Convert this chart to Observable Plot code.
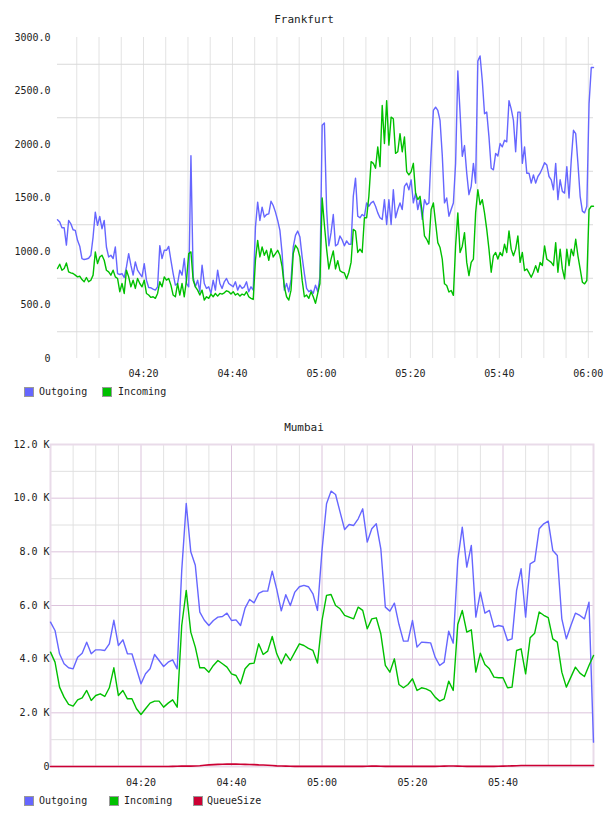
<!DOCTYPE html>
<html><head><meta charset="utf-8">
<script src="https://cdn.jsdelivr.net/npm/d3@7"></script>
<script src="https://cdn.jsdelivr.net/npm/@observablehq/plot@0.6"></script>
<style>
body{margin:0;background:#fff;}
#wrap{position:relative;width:608px;height:816px;font-family:"DejaVu Sans Mono",monospace;color:#222;overflow:hidden;}
.title{position:absolute;left:0;width:608px;text-align:center;font-size:11px;line-height:14px;color:#222;}
.sw{position:absolute;width:10px;height:10px;box-sizing:border-box;border:1px solid #999;}
.lt{position:absolute;font-size:10px;line-height:12px;color:#222;}
#wrap svg{position:absolute;left:0;}
</style></head><body><div id="wrap"></div>
<script>
// ---------- Frankfurt (30-second samples starting 04:00:40) ----------
const fraTitle = "Frankfurt";
const fraStart = "04:00:40";
const fraStepSeconds = 30;
const fraOutgoing = [
1297,1275,1222,1222,1060,1290,1259,1203,1197,1104,
1050,934,925,930,937,965,1135,1368,1244,1327,
1213,1290,1042,949,965,934,1042,794,785,794,
757,856,980,872,779,903,825,794,763,887,
732,664,661,649,639,670,1055,934,1011,1011,
1048,918,794,686,701,825,779,934,701,670,
1895,760,670,732,624,872,701,655,670,608,
732,639,825,701,655,717,748,701,686,670,
717,639,686,655,670,717,624,670,639,1228,
1461,1290,1414,1321,1346,1352,1470,1430,1368,1290,
1197,980,639,701,624,732,1042,1151,1191,1135,
949,794,655,624,639,608,686,624,763,2180,
2200,1392,1053,1176,1346,1053,1068,1145,1108,1053,
1099,1068,1068,1516,1685,1330,1315,1346,1330,1454,
1423,1454,1469,1423,1361,1315,1300,1485,1253,1485,
1253,1577,1315,1392,1454,1392,1608,1639,1577,1670,
1454,1546,1392,1485,1300,1485,1438,1454,1917,2318,
2349,2318,2225,1901,1454,1500,1330,1392,1454,1824,
2688,2300,1890,1990,1732,1531,1608,1824,1639,2781,
2827,2596,2287,2303,2071,1778,1763,1917,1892,2009,
1978,2040,2025,2410,2333,2225,1932,2303,2303,1824,
1978,1732,1732,1639,1716,1639,1701,1732,1778,1830,
1809,1701,1670,1577,1824,1485,1670,1562,1546,1793,
1500,1855,2133,2102,1824,1516,1377,1361,1423,2380,
2719,2719];
const fraIncoming = [
841,881,825,841,893,810,800,794,779,763,
769,738,717,757,717,732,779,996,887,949,
965,918,825,810,779,825,763,748,624,701,
608,825,763,670,732,655,748,701,670,732,
608,593,571,577,562,608,717,670,763,732,
748,686,593,577,701,593,701,577,732,980,
996,732,670,639,593,639,546,577,562,602,
577,608,583,608,602,614,633,624,602,624,
593,608,583,602,593,624,577,562,552,918,
1104,949,1042,965,1011,918,1027,949,980,1011,
965,856,670,577,546,639,980,1058,1027,949,
732,577,593,562,624,577,515,608,701,1500,
1250,1022,837,929,1006,837,914,821,806,800,
744,806,898,1207,1192,991,1022,991,1315,1315,
1516,1840,1824,1778,1978,1793,2364,2009,2410,1994,
2256,2241,1917,1932,2102,1932,2071,1747,1716,1747,
1824,1546,1485,1516,1361,1145,1114,1068,1392,1454,
1269,1083,1037,929,698,682,621,636,590,1053,
1361,990,1050,1176,898,775,898,929,1361,1577,
1438,1485,1361,1207,1022,806,960,991,929,991,
960,1068,991,1192,1022,960,1022,1145,898,991,
821,837,800,759,806,868,806,898,868,1053,
929,914,898,868,1083,806,1022,837,744,1022,
868,1022,960,1114,960,837,713,698,729,1392,
1423,1423];
const fraYTicks = [0,500,1000,1500,2000,2500,3000];
const fraYGrid = [250,750,1250,1750,2250,2750];
const fraXTicks = ["04:20","04:40","05:00","05:20","05:40","06:00"];

// ---------- Mumbai (1-minute samples 04:00 .. 06:00) ----------
const mumTitle = "Mumbai";
const mumStart = "04:00:00";
const mumStepSeconds = 60;
const mumOutgoing = [
5379,5069,4199,3827,3678,3640,4075,4224,4634,4199,
4348,4348,4324,4572,5450,4510,4721,4199,4199,3640,
3082,3454,3640,4175,3951,3727,3889,3976,3640,7300,
9800,8000,7500,5750,5450,5255,5441,5566,5590,5715,
5441,5466,5255,5900,6224,6100,6450,6534,6534,7280,
6600,5800,6400,6000,6500,6700,6750,6700,6437,5816,
8051,9790,10262,10138,9480,8834,9020,8983,9231,9604,
8362,8859,9045,8113,5940,5791,6089,5300,4671,4671,
5441,4448,4634,4620,4609,4075,3765,3889,5044,4597,
7679,8921,7430,8238,5567,6499,5716,5816,5193,5255,
5218,4696,4758,6561,7368,5567,7554,7654,8859,9045,
9144,8051,7865,5505,4758,5255,5715,5628,5503,6126,
908];
const mumIncoming = [
4261,3889,2957,2585,2312,2249,2485,2560,2833,2461,
2647,2709,2610,2933,3678,2647,2833,2523,2523,2150,
1939,2150,2361,2436,2436,2212,2361,2485,2212,5255,
6561,5007,4448,3678,3678,3516,3765,3951,3827,3703,
3454,3392,3082,3640,3827,3852,4572,4175,4299,4845,
4199,3827,4199,3951,4261,4572,4510,4400,4324,3852,
5441,6375,6412,6002,5878,5629,5567,5505,5940,5816,
5131,5503,5541,4945,3765,3516,4013,3057,2933,3057,
3268,2833,2933,2895,2808,2585,2436,2523,3181,2833,
5292,5816,5007,5094,3516,4224,3802,3641,3330,3305,
3305,2933,2957,4324,4386,3454,4796,4969,5759,5635,
5548,4758,4634,3516,2957,3330,3703,3479,3355,3765,
4137];
const mumQueueSize = [
0,0,0,0,0,0,0,0,0,0,
0,0,0,0,0,0,0,0,0,0,
0,0,0,0,0,0,0,5,10,15,
20,15,20,30,45,60,70,80,85,90,
90,88,85,80,75,70,60,55,45,35,
25,20,15,10,5,5,5,5,5,5,
5,5,5,5,5,5,5,5,5,5,
10,15,15,10,5,5,5,5,5,5,
5,5,5,5,5,5,10,15,20,20,
15,10,5,5,5,5,5,5,5,10,
15,20,25,30,35,35,35,35,35,35,
35,35,35,35,35,35,35,35,35,35,
35];
const mumYTicks = [0,2000,4000,6000,8000,10000,12000];
const mumYGridMajor = [2000,4000,6000,8000,10000];
const mumYGridMinor = [1000,3000,5000,7000,9000,11000];
const mumXTicks = ["04:20","04:40","05:00","05:20","05:40"];

const seriesNames = ["Outgoing","Incoming","QueueSize"];
const seriesColors = ["#6666ff","#00c000","#cc0033"];

// ---------- helpers ----------
const parseHMS = d3.utcParse("%H:%M:%S");
const parseHM = d3.utcParse("%H:%M");
const fmtHM = d3.utcFormat("%H:%M");
function times(start, step, n){ const t0 = parseHMS(start); return d3.range(n).map(i => new Date(+t0 + i*step*1000)); }

const wrap = document.getElementById("wrap");
function addTitle(text, top){ const d=document.createElement("div"); d.className="title"; d.style.top=top+"px"; d.textContent=text; wrap.appendChild(d); }
function addLegend(items, top){
  items.forEach(it => {
    const s=document.createElement("div"); s.className="sw"; s.style.left=it.sx+"px"; s.style.top=top+"px"; s.style.background=it.color; wrap.appendChild(s);
    const l=document.createElement("div"); l.className="lt"; l.style.left=it.tx+"px"; l.style.top=(top-1)+"px"; l.textContent=it.name; wrap.appendChild(l);
  });
}
const baseStyle = {fontFamily:"'DejaVu Sans Mono', monospace", fontSize:"10px", color:"#222", background:"transparent", overflow:"visible"};

// ---------- Frankfurt chart ----------
const fraT = times(fraStart, fraStepSeconds, fraOutgoing.length);
const fraData = fraT.map((t,i)=>({t, out:fraOutgoing[i], inc:fraIncoming[i]}));
const fraGridX = d3.utcMinute.every(5).range(parseHM("04:05"), new Date(+fraT[fraT.length-1]+1));
addTitle(fraTitle, 13);
const fra = Plot.plot({
  width:608, height:385,
  marginLeft:57, marginRight:15, marginTop:37, marginBottom:27,
  style: baseStyle,
  x:{type:"utc", domain:[fraT[0], fraT[fraT.length-1]]},
  y:{domain:[0,3000]},
  marks:[
    Plot.ruleX(fraGridX, {stroke:"#e3e3e3", strokeWidth:1}),
    Plot.ruleY(fraYGrid, {stroke:"#d9d9d9", strokeWidth:1}),
    Plot.line(fraData, {x:"t", y:"out", stroke:seriesColors[0], strokeWidth:1.4}),
    Plot.line(fraData, {x:"t", y:"inc", stroke:seriesColors[1], strokeWidth:1.4}),
    Plot.axisX(fraXTicks.map(parseHM), {tickSize:0, tickPadding:11, tickFormat:fmtHM, label:null}),
    Plot.axisY(fraYTicks, {tickSize:0, tickPadding:7, tickFormat:d=>d===0?"0":d.toFixed(1), label:null})
  ]
});
fra.style.top = "0px";
wrap.appendChild(fra);
addLegend([
  {name:seriesNames[0], color:seriesColors[0], sx:24, tx:39},
  {name:seriesNames[1], color:seriesColors[1], sx:102, tx:118}
], 387);

// ---------- Mumbai chart ----------
const mumT = times(mumStart, mumStepSeconds, mumOutgoing.length);
const mumData = mumT.map((t,i)=>({t, out:mumOutgoing[i], inc:mumIncoming[i], q:mumQueueSize[i]}));
const mumGridAll = d3.utcMinute.every(5).range(parseHM("04:05"), parseHM("06:00"));
const mumGridMajorX = mumGridAll.filter(d => d.getUTCMinutes() % 20 === 0);
const mumGridMinorX = mumGridAll.filter(d => d.getUTCMinutes() % 20 !== 0);
addTitle(mumTitle, 421);
const pink = "#dcc3dc";
const mum = Plot.plot({
  width:608, height:392,
  marginLeft:50, marginRight:15, marginTop:44, marginBottom:26,
  style: baseStyle,
  x:{type:"utc", domain:[mumT[0], mumT[mumT.length-1]]},
  y:{domain:[0,12000]},
  marks:[
    Plot.ruleX(mumGridMinorX, {stroke:"#e2e2e2", strokeWidth:1}),
    Plot.ruleY(mumYGridMinor, {stroke:"#e0e0e0", strokeWidth:1}),
    Plot.ruleX(mumGridMajorX, {stroke:pink, strokeWidth:1}),
    Plot.ruleY(mumYGridMajor, {stroke:pink, strokeWidth:1}),
    Plot.frame({stroke:"#e9dbe9", strokeWidth:2}),
    Plot.line(mumData, {x:"t", y:"out", stroke:seriesColors[0], strokeWidth:1.4}),
    Plot.line(mumData, {x:"t", y:"inc", stroke:seriesColors[1], strokeWidth:1.4}),
    Plot.line(mumData, {x:"t", y:"q", stroke:seriesColors[2], strokeWidth:1.6}),
    Plot.axisX(mumXTicks.map(parseHM), {tickSize:0, tickPadding:12, tickFormat:fmtHM, label:null}),
    Plot.axisY(mumYTicks, {tickSize:0, tickPadding:1, tickFormat:d=>d===0?"0":(d/1000).toFixed(1)+" K", label:null})
  ]
});
mum.style.top = "400px";
wrap.appendChild(mum);
addLegend([
  {name:seriesNames[0], color:seriesColors[0], sx:24, tx:39},
  {name:seriesNames[1], color:seriesColors[1], sx:109, tx:124},
  {name:seriesNames[2], color:seriesColors[2], sx:193, tx:207}
], 796);
</script></body></html>
